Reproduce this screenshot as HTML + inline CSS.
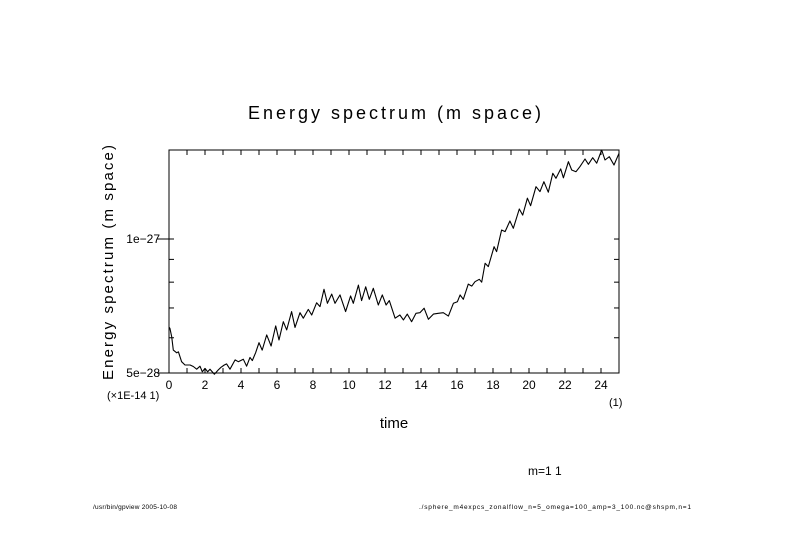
<!DOCTYPE html>
<html><head><meta charset="utf-8"><style>
html,body{margin:0;padding:0;background:#fff;}
svg{display:block;font-family:"Liberation Sans",sans-serif;}
</style></head><body>
<svg id="chart" width="789" height="558" viewBox="0 0 789 558" xmlns="http://www.w3.org/2000/svg">
<rect width="789" height="558" fill="#fff"/>
<text x="248" y="119" font-size="18" textLength="293" lengthAdjust="spacing">Energy spectrum (m space)</text>
<text transform="translate(113,380) rotate(-90)" font-size="15" textLength="235" lengthAdjust="spacing">Energy spectrum (m space)</text>
<text x="394" y="428" font-size="15" text-anchor="middle">time</text>
<text x="107" y="399" font-size="11">(×1E-14 1)</text>
<text x="609" y="406" font-size="11">(1)</text>
<text x="528" y="475" font-size="12">m=1 1</text>
<text x="93" y="509" font-size="6.5" textLength="84" lengthAdjust="spacing">/usr/bin/gpview  2005-10-08</text>
<text x="419" y="509" font-size="6.5" textLength="272" lengthAdjust="spacing">./sphere_m4expcs_zonalflow_n=5_omega=100_amp=3_100.nc@shspm,n=1</text>
<g id="axes"></g>
<g id="plot"></g>
</svg>
<script>
const times = [0,0.05,0.15,0.24,0.43,0.52,0.7,0.89,1.17,1.35,1.54,1.72,1.85,2.0,2.15,2.28,2.52,2.74,2.89,3.07,3.2,3.39,3.67,3.85,4.13,4.31,4.5,4.63,4.81,5.0,5.18,5.43,5.67,5.93,6.11,6.35,6.54,6.81,7.0,7.28,7.46,7.74,7.93,8.2,8.39,8.61,8.8,9.04,9.22,9.5,9.81,10.09,10.24,10.52,10.7,10.93,11.13,11.35,11.63,11.85,12.06,12.24,12.56,12.83,13.02,13.24,13.48,13.72,13.94,14.17,14.41,14.69,14.96,15.24,15.52,15.8,16.02,16.17,16.35,16.63,16.82,17.0,17.24,17.37,17.56,17.74,18.06,18.2,18.48,18.67,18.94,19.13,19.46,19.65,19.91,20.09,20.39,20.61,20.83,21.07,21.32,21.5,21.76,21.91,22.19,22.37,22.61,22.83,23.11,23.3,23.54,23.76,24.04,24.22,24.46,24.72,25.0];
const energy = [6.34,6.30,6.03,5.63,5.55,5.58,5.30,5.21,5.21,5.17,5.10,5.18,5.03,5.12,5.03,5.10,4.97,5.08,5.15,5.21,5.24,5.10,5.35,5.30,5.37,5.18,5.42,5.33,5.55,5.85,5.63,6.09,5.75,6.38,5.93,6.52,6.25,6.87,6.33,6.83,6.64,6.95,6.75,7.19,7.05,7.71,7.17,7.52,7.17,7.49,6.87,7.45,7.17,7.88,7.27,7.81,7.32,7.75,7.11,7.49,7.11,7.27,6.64,6.75,6.58,6.78,6.52,6.81,6.83,6.99,6.60,6.78,6.81,6.83,6.71,7.17,7.23,7.49,7.32,7.92,7.84,8.02,8.12,8.00,8.82,8.67,9.61,9.37,10.48,10.39,10.98,10.57,11.68,11.32,12.35,11.88,13.11,12.78,13.45,12.74,14.05,13.69,14.37,13.73,14.92,14.29,14.17,14.54,15.13,14.72,15.23,14.80,15.85,15.05,15.31,14.67,15.58];
const xTickLabels = ["0","2","4","6","8","10","12","14","16","18","20","22","24"];
const yTickValues = [5,6,7,8,9,10];
const yTickLabels = ["5e\u221228","","","","","1e\u221227"];

const NS="http://www.w3.org/2000/svg";
const L=169,R=619,T=150,B=373;
const X0=0,X1=25,Y0=5,Y1=15.85;
function xs(t){return L+(t-X0)/(X1-X0)*(R-L);}
function ys(v){return B-(Math.log10(v)-Math.log10(Y0))/(Math.log10(Y1)-Math.log10(Y0))*(B-T);}
function mk(tag,attrs,parent){const e=document.createElementNS(NS,tag);for(const k in attrs)e.setAttribute(k,attrs[k]);parent.appendChild(e);return e;}
const axes=document.getElementById('axes');
const frame=mk('rect',{x:L,y:T,width:R-L,height:B-T,fill:'none',stroke:'#000','stroke-width':1},axes);


for(let t=0;t<=25;t++){
  const x=xs(t);
  const tb=mk('line',{x1:x,y1:B,x2:x,y2:B-5,stroke:'#000'},axes);
  
  
  const tt=mk('line',{x1:x,y1:T,x2:x,y2:T+5,stroke:'#000'},axes);
  
  
}
xTickLabels.forEach(s=>{
  const tx=mk('text',{x:xs(parseFloat(s)),y:389,'font-size':12,'text-anchor':'middle'},axes);
  tx.textContent=s;
  
  
});
yTickValues.forEach((v,i)=>{
  const y=ys(v);
  const major=yTickLabels[i]!=="";
  const tl=mk('line',{x1:major?L-12:L,y1:y,x2:L+5,y2:y,stroke:'#000'},axes);
  
  
  const tr=mk('line',{x1:R-5,y1:y,x2:R,y2:y,stroke:'#000'},axes);
  
  
  if(major){
    const tx=mk('text',{x:L-9,y:y+4,'font-size':12,'text-anchor':'end'},axes);
    tx.textContent=yTickLabels[i];
    
    
  }
});
const plot=document.getElementById('plot');
let d='';
times.forEach((t,i)=>{d+=(i?'L':'M')+xs(t).toFixed(1)+' '+ys(energy[i]).toFixed(1);});
const line=mk('path',{d:d,fill:'none',stroke:'#000','stroke-width':1.1,'stroke-linejoin':'round'},plot);


</script>
</body></html>
